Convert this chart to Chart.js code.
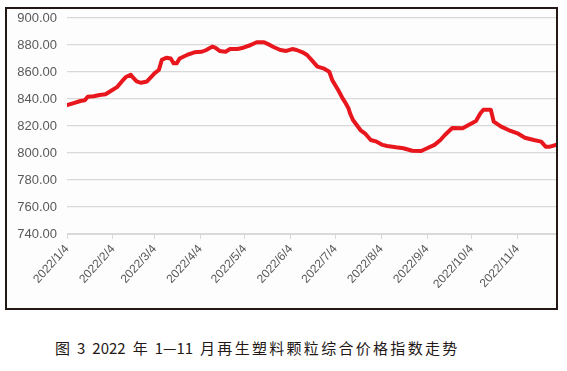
<!DOCTYPE html>
<html>
<head>
<meta charset="utf-8">
<script src="https://cdn.jsdelivr.net/npm/chart.js@4"></script>
<style>
  body { margin: 0; background: #fff; width: 567px; height: 371px; position: relative; overflow: hidden; }
  #box { position: absolute; left: 5px; top: 7px; width: 553px; height: 303px; border: 2px solid #231815; box-sizing: border-box; background: #fdfdfd; }
  #caption { position: absolute; left: 55px; top: 337px; font: 15px "Noto Sans CJK SC", sans-serif; color: #231815; white-space: nowrap; }
  #caption span { display: inline-block; margin-right: 7px; }
  #caption .cjk { letter-spacing: 2.3px; margin-right: 0; }
</style>
</head>
<body>
<div id="box"><canvas id="priceChart" width="549" height="299"></canvas></div>
<div id="caption"><span>图</span><span>3</span><span>2022</span><span>年</span><span>1—11</span><span class="cjk">月再生塑料颗粒综合价格指数走势</span></div>
<script>
// дни от 2022/1/4 и значения индекса
const days = [0, 4, 9, 12, 14, 18, 22, 26, 29, 34, 37, 40, 43, 44, 47, 50, 54, 57, 59, 62,
  64, 67, 70, 72, 74, 76, 81, 86, 91, 94, 98, 100, 103, 107, 110, 115, 119, 124, 128, 133,
  136, 139, 144, 148, 152, 155, 159, 162, 165, 169, 173, 177, 179, 183, 186, 188, 190, 191, 193, 198,
  201, 205, 209, 213, 216, 222, 227, 233, 239, 243, 248, 252, 255, 260, 267, 271, 276, 279, 281, 286,
  288, 293, 298, 304, 309, 315, 320, 323, 326, 330];
const values = [835.5, 836.8, 838.5, 839, 841.7, 842, 843, 843.5, 845.5, 849, 853, 856.5, 858, 856.5, 853, 852, 853, 856.5, 859, 861.5,
  869, 870.6, 870, 866.4, 866.4, 870, 872.6, 874.6, 875, 876.3, 878.8, 878, 875.6, 875, 877, 877, 878, 880, 882, 882,
  880.5, 878.7, 876.3, 875.6, 877, 876.3, 874.6, 872.6, 869, 864, 862.7, 860.2, 854, 846.7, 840.5, 837, 833, 829.4, 824.4, 817,
  814.6, 809.6, 808.4, 806, 805.2, 804.2, 803.5, 801.7, 801.5, 803.5, 806, 809.6, 813.3, 818.5, 818.3, 820.7, 823.7, 829.4, 832, 832,
  823.2, 819.5, 817, 814.6, 811.3, 809.6, 808.4, 804.7, 804.7, 806];

// подписи оси X
const tickDays = [0, 31, 59, 90, 120, 151, 181, 212, 243, 273, 304];
const tickLabels = ['2022/1/4', '2022/2/4', '2022/3/4', '2022/4/4', '2022/5/4', '2022/6/4',
  '2022/7/4', '2022/8/4', '2022/9/4', '2022/10/4', '2022/11/4'];

const points = days.map((d, i) => ({ x: d, y: values[i] }));

new Chart(document.getElementById('priceChart'), {
  type: 'line',
  data: {
    datasets: [
      {
        data: points,
        borderColor: '#e8161d',
        borderWidth: 4,
        pointRadius: 0,
        tension: 0,
        borderJoinStyle: 'round',
        borderCapStyle: 'round',
      },
    ],
  },
  options: {
    responsive: false,
    animation: false,
    layout: { padding: { top: 9, right: 0, left: 0, bottom: 0 } },
    plugins: { legend: { display: false }, tooltip: { enabled: false } },
    scales: {
      x: {
        type: 'linear',
        min: 0,
        max: 330,
        afterBuildTicks: (scale) => {
          scale.ticks = tickDays.map((v) => ({ value: v }));
        },
        afterFit: (scale) => {
          scale.height = 74;
        },
        ticks: {
          autoSkip: false,
          maxRotation: 48,
          minRotation: 48,
          color: '#595959',
          font: { family: 'Liberation Sans', size: 12 },
          callback: (v) => {
            const i = tickDays.indexOf(v);
            return i >= 0 ? tickLabels[i] : null;
          },
        },
        grid: { drawOnChartArea: false, drawTicks: true, tickLength: 5, color: '#d9d9d9' },
        border: { color: '#d9d9d9', width: 1 },
      },
      y: {
        min: 740,
        max: 900,
        afterFit: (scale) => {
          scale.width = 60;
          // убираем лишний отступ сверху
          scale.paddingTop = 0;
        },
        ticks: {
          stepSize: 20,
          padding: 10,
          color: '#595959',
          font: { family: 'Liberation Sans', size: 13 },
          callback: (v) => v.toFixed(2),
        },
        grid: { color: '#d9d9d9', lineWidth: 1.2, drawTicks: false },
        border: { display: false },
      },
    },
  },
});
</script>
</body>
</html>
